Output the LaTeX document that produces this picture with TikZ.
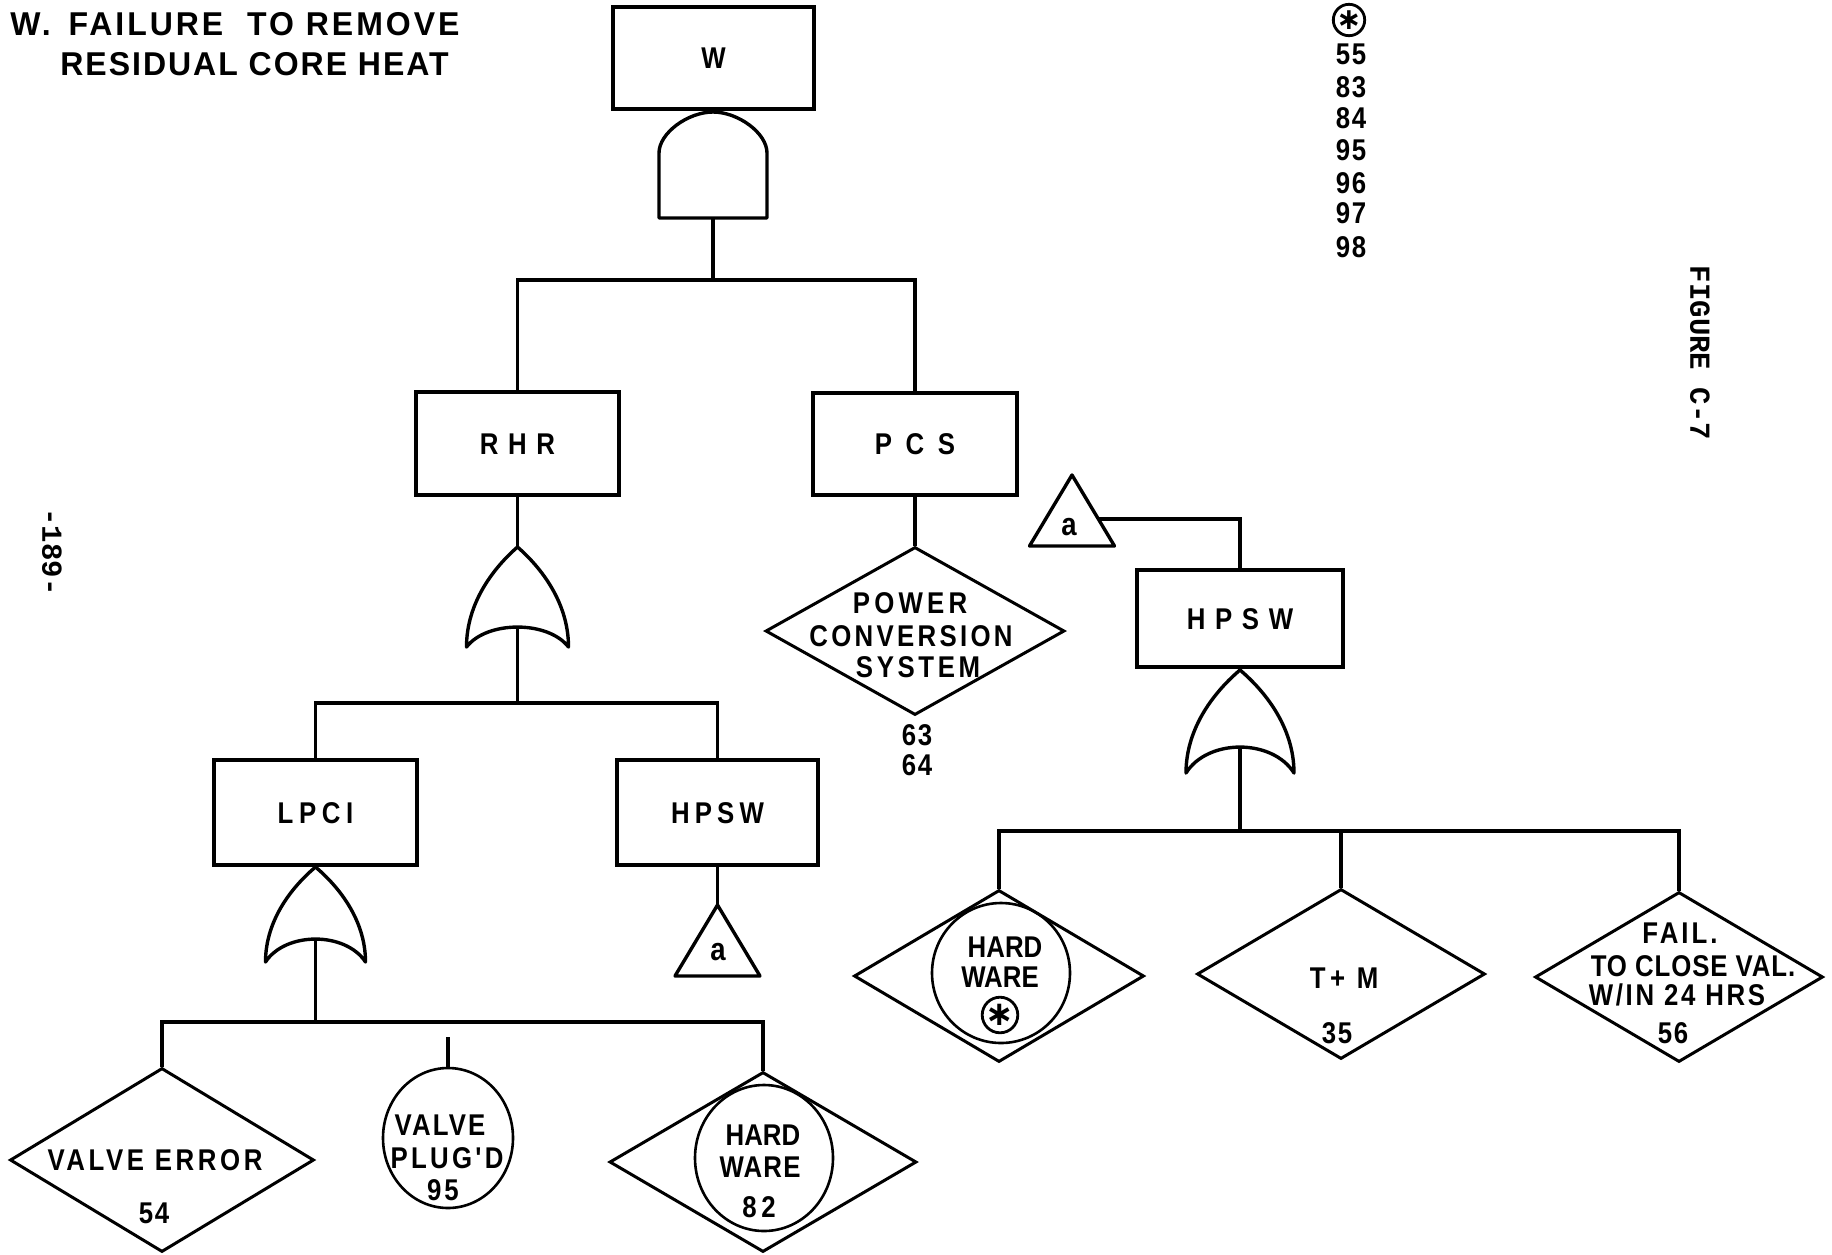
\documentclass[tikz,border=0pt]{standalone}
\usepackage{fontspec}
\usetikzlibrary{shapes.geometric}
\newfontfamily\lbl{Liberation Sans}[FakeStretch=0.86]
\newfontfamily\ttlfont{Liberation Sans}[FakeStretch=0.97]
\newfontfamily\tw{Liberation Mono}
\newfontfamily\djv{DejaVu Sans}
\newcommand\ORgate[6]{%
  \begin{scope}[shift={(#1,#2)}]
    \draw[gate] (0,0) coordinate (#6top)
      .. controls (-0.45*#3,0.2*#4) and (-#3,0.55*#4) .. (-#3,#4)
      .. controls (-0.6*#3,#4-1.33*#5) and (0.6*#3,#4-1.33*#5) .. (#3,#4)
      .. controls (#3,0.55*#4) and (0.45*#3,0.2*#4) .. (0,0) -- cycle;
    \coordinate (#6in) at (0,#4-#5);
  \end{scope}}
\newcommand\TRIgate[3]{%
  \draw[gate] (#1,#2) coordinate (#3top) -- ++(42.5,71) -- ++(-85,0) -- cycle;}
\begin{document}
\begin{tikzpicture}[x=0.5pt,y=-0.5pt,
  ln/.style={line width=1.7pt},
  gate/.style={line width=1.7pt, line join=round},
  box/.style={draw, line width=1.7pt, rectangle, inner sep=0pt},
  dia/.style={draw, line width=1.5pt, diamond, inner sep=0pt},
  ell/.style={draw, line width=1.3pt, ellipse, inner sep=0pt},
  lab/.style={font={\lbl\bfseries\fontsize{15}{18}\selectfont\addfontfeature{LetterSpace=#1}}, inner sep=0pt, text height=10.7pt, text depth=0pt},
  lab/.default=6,
  ttl/.style={font={\ttlfont\bfseries\fontsize{16.5}{18}\selectfont\addfontfeature{LetterSpace=#1}}, inner sep=0pt, text height=11.8pt, text depth=0pt, anchor=west},
  ttl/.default=6,
  alab/.style={font={\lbl\bfseries\fontsize{16}{18}\selectfont}, inner sep=0pt, text height=8.3pt, text depth=0pt},
  cast/.style={circle, draw, line width=1.4pt, inner sep=0pt, minimum size=12.5pt, font={\djv\bfseries\fontsize{15}{15}\selectfont}},
  tws/.style={font={\tw\bfseries\fontsize{14.5}{16}\selectfont}, inner sep=0pt, rotate=-90}
  ]
\fill[white] (0,0) rectangle (1832,1254);
\useasboundingbox (0,0) rectangle (1832,1254);

% title and margin texts
\node[ttl=9] (title1) at (10,24) {W.\hspace{3pt} FAILURE\hspace{6pt} TO REMOVE};
\node[ttl] (title2) at (60,64) {RESIDUAL CORE HEAT};
\node[tws] (fig) at (1700,353) {FIGURE C-7};
\node[tws] (pg) at (52,552) {-189-};

% list of numbers top right
\node[cast] (c0) at (1349,20) {∗};
\foreach \nm/\yy [count=\i] in {55/54,83/87,84/118,95/150,96/183,97/213,98/247}
  \node[lab] (num\i) at (1351,\yy) {\nm};

% boxes
\node[box,lab=0,minimum width=100.5pt,minimum height=51pt] (W) at (713.5,58) {W};
\node[box,lab=32,minimum width=101.5pt,minimum height=51.5pt] (RHR) at (517.5,443.5) {RHR};
\node[box,lab=45,minimum width=102pt,minimum height=51pt] (PCS) at (915,444) {PCS};
\node[box,lab=19,minimum width=101.5pt,minimum height=52.5pt] (LPCI) at (315.5,812.5) {LPCI};
\node[box,lab=17,minimum width=100.5pt,minimum height=52.5pt] (HPSWa) at (717.5,812.5) {HPSW};
\node[box,lab=32,minimum width=103pt,minimum height=48.5pt] (HPSWb) at (1240,618.5) {HPSW};

% AND gate under W
\draw[gate] (659,218) -- (659,153) .. controls (659,133) and (688,112) .. (713,112)
  .. controls (738,112) and (767,133) .. (767,153) -- (767,218) -- cycle;
\coordinate (andtop) at (713,112);
\coordinate (andbot) at (713,218);
\draw[ln] (W.south) -- (andtop);
\coordinate (bar0) at (713,280);
\draw[ln] (andbot) -- (bar0);
\draw[ln] (RHR.north) |- (bar0) -| (PCS.north);

% RHR branch
\ORgate{517.5}{547}{51}{100}{20}{orA}
\draw[ln] (RHR.south) -- (orAtop);
\coordinate (barA) at (517.5,703);
\draw[ln] (orAin) -- (barA);
\draw[ln] (LPCI.north) |- (barA) -| (HPSWa.north);

% LPCI branch
\ORgate{315.5}{867}{50}{95}{23}{orB}
\draw[ln] (LPCI.south) -- (orBtop);
\coordinate (barB) at (315.5,1022);
\draw[ln] (orBin) -- (barB);

\node[dia,minimum width=152pt,minimum height=92pt] (VE) at (162,1160) {};
\node[lab=12] (tVE1) at (155,1160) {VALVE ERROR};
\node[lab] (tVE2) at (154,1213) {54};

\node[ell,minimum width=65pt,minimum height=70pt] (VP) at (448,1138) {};
\node[lab=7] (tVP1) at (440,1125) {VALVE};
\node[lab=11] (tVP2) at (447,1158) {PLUG'D};
\node[lab=10] (tVP3) at (443,1190) {95};
\coordinate (vpstub) at (448,1037);
\draw[ln] (vpstub) -- (VP.north);

\node[dia,minimum width=153.5pt,minimum height=90pt] (HW82) at (763,1162) {};
\node[ell,minimum width=69pt,minimum height=73pt] (HW82e) at (764,1158) {};
\node[lab=0] (tHW1) at (763,1135) {HARD};
\node[lab=4] (tHW2) at (760,1167) {WARE};
\node[lab=16] (tHW3) at (759,1207) {82};

\draw[ln] (VE.north) |- (barB) -| (HW82.north);

% HPSW (left) transfer
\TRIgate{717.5}{905}{triA}
\draw[ln] (HPSWa.south) -- (triAtop);
\node[alab] (aA) at (718,952) {a};

% PCS branch
\node[dia,minimum width=149.5pt,minimum height=84pt] (PCSd) at (915,631) {};
\draw[ln] (PCS.south) -- (PCSd.north);
\node[lab=14] (tPC1) at (910,603) {POWER};
\node[lab=11] (tPC2) at (911,636) {CONVERSION};
\node[lab=12] (tPC3) at (918,667) {SYSTEM};
\node[lab] (tPC4) at (917,735) {63};
\node[lab] (tPC5) at (917,765) {64};

% HPSW (right)
\TRIgate{1072}{475}{triB}
\node[alab] (aB) at (1069,527) {a};
\coordinate (triBside) at (1098,519);
\draw[ln] (triBside) -| (HPSWb.north);

\ORgate{1240}{670}{54}{103}{26}{orC}
\draw[ln] (HPSWb.south) -- (orCtop);
\coordinate (barC) at (1240,831);
\draw[ln] (orCin) -- (barC);

\node[dia,minimum width=145pt,minimum height=86pt] (HWs) at (999,976) {};
\node[ell,minimum width=69pt,minimum height=70pt] (HWse) at (1001,973) {};
\node[lab=0] (tHS1) at (1005,947) {HARD};
\node[lab=0] (tHS2) at (1000,977) {WARE};
\node[cast, minimum size=16pt, font={\djv\bfseries\fontsize{17}{17}\selectfont}] (c1) at (1000,1015) {∗};

\node[dia,minimum width=144pt,minimum height=85pt] (TM) at (1341,974) {};
\node[lab=15] (tTM1) at (1344,978) {T+ M};
\node[lab] (tTM2) at (1337,1033) {35};

\node[dia,minimum width=144pt,minimum height=85pt] (FL) at (1679,977) {};
\node[lab=10] (tFL1) at (1680,933) {FAIL.};
\node[lab=3] (tFL2) at (1693,966) {TO CLOSE VAL.};
\node[lab=9] (tFL3) at (1677,995) {W/IN 24 HRS};
\node[lab] (tFL4) at (1673,1033) {56};

\draw[ln] (HWs.north) |- (barC) -| (FL.north);
\draw[ln] (TM.north) -- (TM.north |- barC);
\end{tikzpicture}
\end{document}
